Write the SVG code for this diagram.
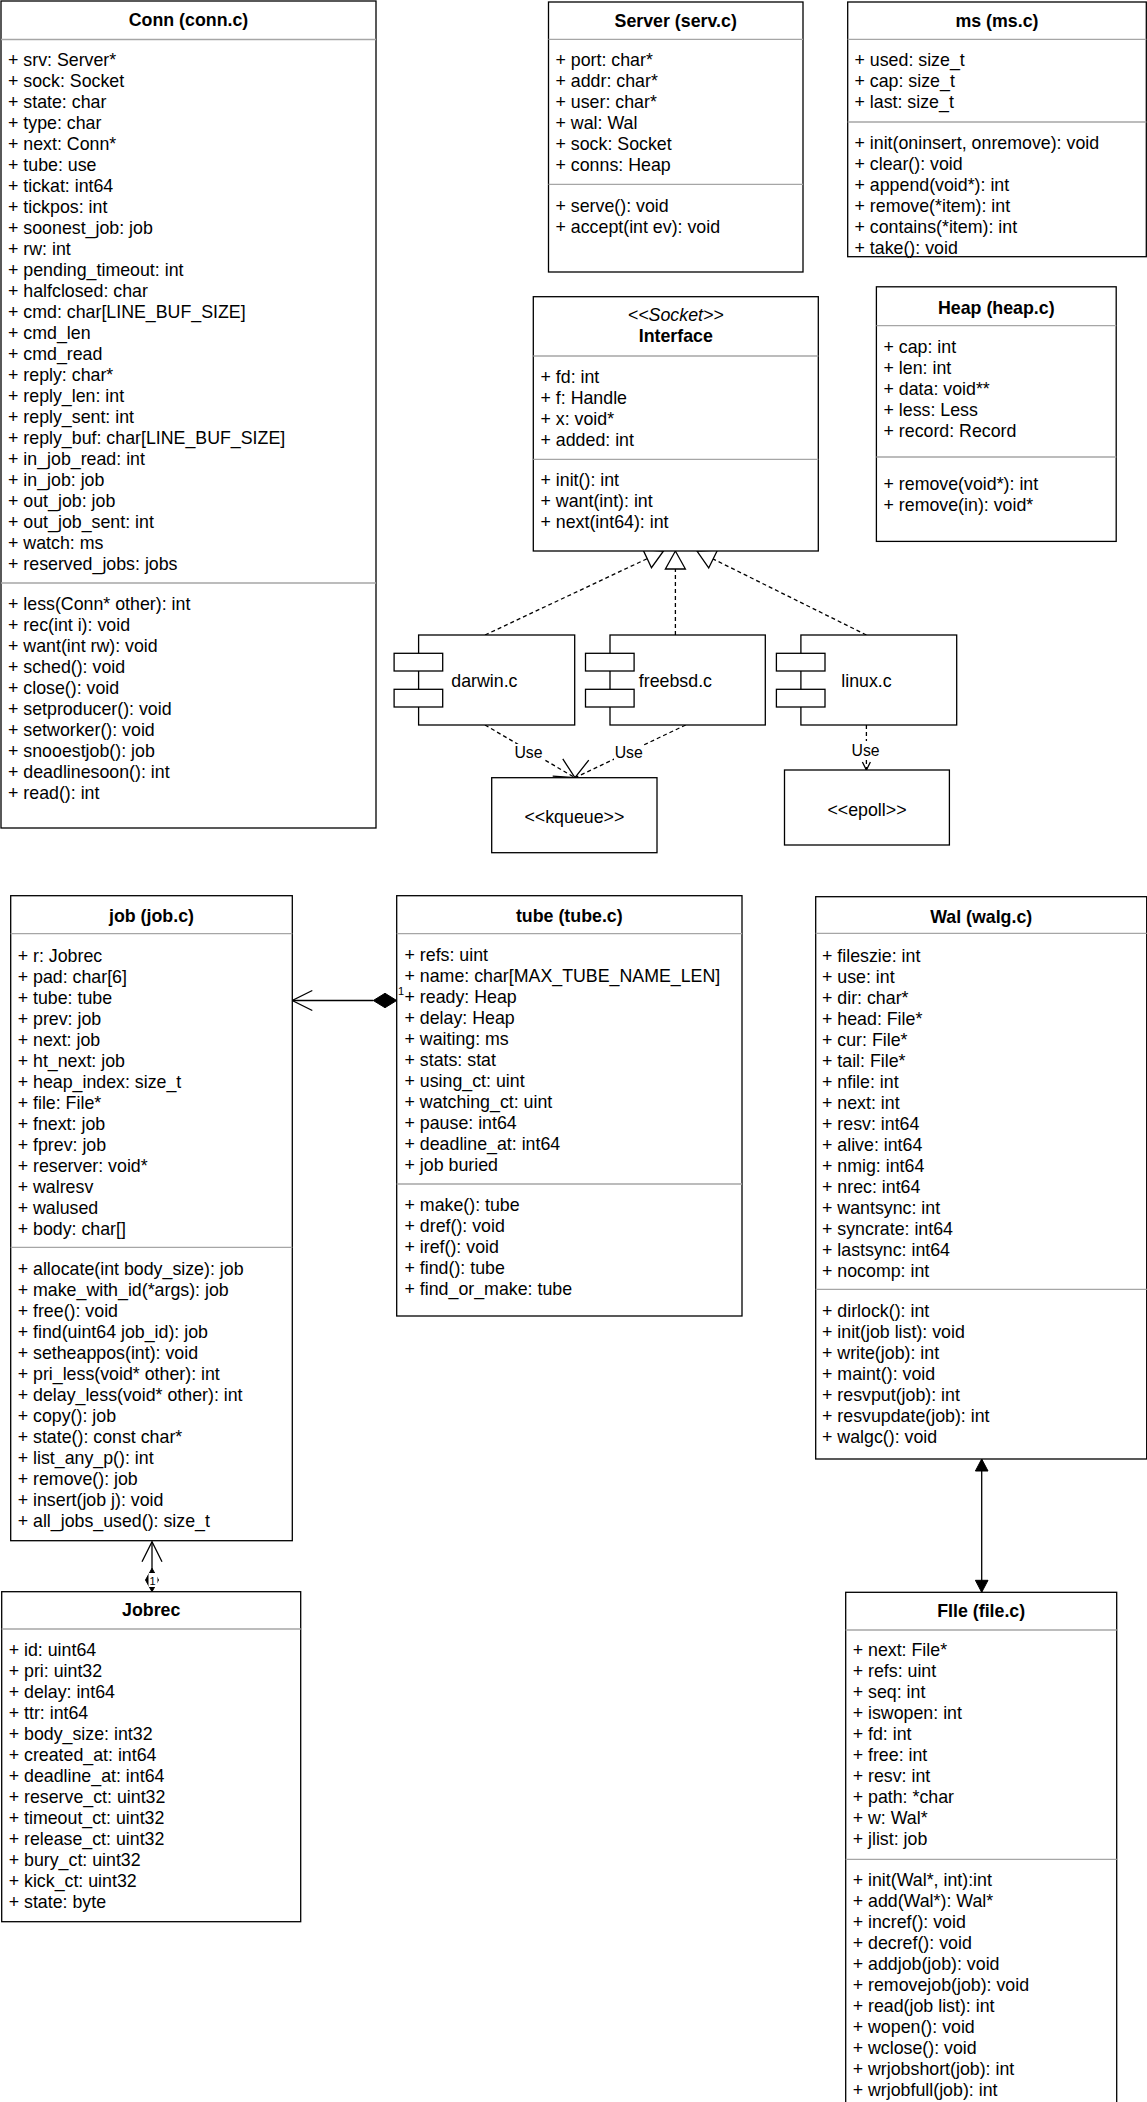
<svg xmlns="http://www.w3.org/2000/svg" width="1147" height="2102" viewBox="0 0 1147 2102">
<style>
.box{fill:#fff;stroke:#000;stroke-width:1.3}
.sep{stroke:#a6a6a6;stroke-width:1.3}
.t{font-family:"Liberation Sans",Arial,Helvetica,sans-serif;font-size:17.8px;fill:#000}
.b{font-weight:bold;text-anchor:middle}
.i{font-style:italic;text-anchor:middle}
.m{text-anchor:middle}
.lbl{font-family:"Liberation Sans",Arial,Helvetica,sans-serif;font-size:15.8px;fill:#000;text-anchor:middle}
.sm{font-family:"Liberation Sans",Arial,Helvetica,sans-serif;font-size:11px;fill:#000}
.ln{fill:none;stroke:#000;stroke-width:1.3}
.dash{fill:none;stroke:#000;stroke-width:1.3;stroke-dasharray:4 3}
</style>
<defs>
<marker id="open" markerUnits="userSpaceOnUse" markerWidth="24" markerHeight="24" refX="20" refY="10" orient="auto" overflow="visible">
<path d="M0,0 L20,10 L0,20" fill="none" stroke="#000" stroke-width="1.3"/>
</marker>
<marker id="openSm" markerUnits="userSpaceOnUse" markerWidth="12" markerHeight="12" refX="8" refY="4" orient="auto" overflow="visible">
<path d="M0,0 L8,4 L0,8" fill="none" stroke="#000" stroke-width="1.3"/>
</marker>
<marker id="hollow" markerUnits="userSpaceOnUse" markerWidth="22" markerHeight="22" refX="18" refY="10" orient="auto" overflow="visible">
<path d="M0,0 L18,10 L0,20 Z" fill="#fff" stroke="#000" stroke-width="1.3"/>
</marker>
<marker id="filled" markerUnits="userSpaceOnUse" markerWidth="14" markerHeight="14" refX="12" refY="6.3" orient="auto-start-reverse" overflow="visible">
<path d="M0,0 L12,6.3 L0,12.6 Z" fill="#000" stroke="#000" stroke-width="1"/>
</marker>
</defs>
<rect x="0" y="0" width="1147" height="2102" fill="#fff"/>

<g id="connectors">
<path class="dash" d="M485,635 L663.5,551" marker-end="url(#hollow)"/>
<path class="dash" d="M675.4,635 L675.4,551" marker-end="url(#hollow)"/>
<path class="dash" d="M866.4,635 L697,551" marker-end="url(#hollow)"/>
<path class="dash" d="M485,725 L575,777.7" marker-end="url(#open)"/>
<path class="dash" d="M685.7,725 L575,777.7" marker-end="url(#open)"/>
<path class="dash" d="M866.4,725 L866.4,770" marker-end="url(#openSm)"/>
<rect x="514" y="744" width="29" height="17" fill="#fff"/>
<text class="lbl" x="528.5" y="758">Use</text>
<rect x="614" y="744" width="29" height="17" fill="#fff"/>
<text class="lbl" x="628.7" y="758">Use</text>
<rect x="851" y="741" width="30" height="17" fill="#fff"/>
<text class="lbl" x="865.6" y="755.7">Use</text>
<path class="ln" d="M373.3,1000.5 L292.3,1000.5" marker-end="url(#open)"/>
<polygon points="396.7,1000.5 385,993.3 373.3,1000.5 385,1007.7" fill="#000" stroke="#000" stroke-width="1"/>
<path class="ln" d="M152,1591.7 L152,1541.7" marker-end="url(#open)"/>
<polygon points="152,1591.7 145.5,1580 152,1568.3 158.5,1580" fill="#000" stroke="#000" stroke-width="1"/>
<path class="ln" d="M981.7,1459 L981.7,1592.3" marker-start="url(#filled)" marker-end="url(#filled)"/>
</g>

<g id="conn">
<rect class="box" x="1" y="1" width="375" height="827"/>
<text class="t b" x="188.5" y="26">Conn (conn.c)</text>
<line class="sep" x1="1" y1="39.5" x2="376" y2="39.5"/>
<text class="t" x="8">
<tspan x="8" y="66">+ srv: Server*</tspan>
<tspan x="8" y="87">+ sock: Socket</tspan>
<tspan x="8" y="108">+ state: char</tspan>
<tspan x="8" y="129">+ type: char</tspan>
<tspan x="8" y="150">+ next: Conn*</tspan>
<tspan x="8" y="171">+ tube: use</tspan>
<tspan x="8" y="192">+ tickat: int64</tspan>
<tspan x="8" y="213">+ tickpos: int</tspan>
<tspan x="8" y="234">+ soonest_job: job</tspan>
<tspan x="8" y="255">+ rw: int</tspan>
<tspan x="8" y="276">+ pending_timeout: int</tspan>
<tspan x="8" y="297">+ halfclosed: char</tspan>
<tspan x="8" y="318">+ cmd: char[LINE_BUF_SIZE]</tspan>
<tspan x="8" y="339">+ cmd_len</tspan>
<tspan x="8" y="360">+ cmd_read</tspan>
<tspan x="8" y="381">+ reply: char*</tspan>
<tspan x="8" y="402">+ reply_len: int</tspan>
<tspan x="8" y="423">+ reply_sent: int</tspan>
<tspan x="8" y="444">+ reply_buf: char[LINE_BUF_SIZE]</tspan>
<tspan x="8" y="465">+ in_job_read: int</tspan>
<tspan x="8" y="486">+ in_job: job</tspan>
<tspan x="8" y="507">+ out_job: job</tspan>
<tspan x="8" y="528">+ out_job_sent: int</tspan>
<tspan x="8" y="549">+ watch: ms</tspan>
<tspan x="8" y="570">+ reserved_jobs: jobs</tspan>
</text>
<line class="sep" x1="1" y1="583" x2="376" y2="583"/>
<text class="t" x="8">
<tspan x="8" y="610">+ less(Conn* other): int</tspan>
<tspan x="8" y="631">+ rec(int i): void</tspan>
<tspan x="8" y="652">+ want(int rw): void</tspan>
<tspan x="8" y="673">+ sched(): void</tspan>
<tspan x="8" y="694">+ close(): void</tspan>
<tspan x="8" y="715">+ setproducer(): void</tspan>
<tspan x="8" y="736">+ setworker(): void</tspan>
<tspan x="8" y="757">+ snooestjob(): job</tspan>
<tspan x="8" y="778">+ deadlinesoon(): int</tspan>
<tspan x="8" y="799">+ read(): int</tspan>
</text>
</g>

<g id="server">
<rect class="box" x="548.5" y="2" width="254.5" height="270"/>
<text class="t b" x="675.7" y="27">Server (serv.c)</text>
<line class="sep" x1="548.5" y1="39.3" x2="803" y2="39.3"/>
<text class="t">
<tspan x="555.5" y="66">+ port: char*</tspan>
<tspan x="555.5" y="87">+ addr: char*</tspan>
<tspan x="555.5" y="108">+ user: char*</tspan>
<tspan x="555.5" y="129">+ wal: Wal</tspan>
<tspan x="555.5" y="150">+ sock: Socket</tspan>
<tspan x="555.5" y="171">+ conns: Heap</tspan>
</text>
<line class="sep" x1="548.5" y1="184.3" x2="803" y2="184.3"/>
<text class="t">
<tspan x="555.5" y="211.5">+ serve(): void</tspan>
<tspan x="555.5" y="232.5">+ accept(int ev): void</tspan>
</text>
</g>

<g id="ms">
<rect class="box" x="847.7" y="2" width="298.6" height="254.7"/>
<text class="t b" x="997" y="27">ms (ms.c)</text>
<line class="sep" x1="847.7" y1="39.3" x2="1146.3" y2="39.3"/>
<text class="t">
<tspan x="854.5" y="66">+ used: size_t</tspan>
<tspan x="854.5" y="87">+ cap: size_t</tspan>
<tspan x="854.5" y="108">+ last: size_t</tspan>
</text>
<line class="sep" x1="847.7" y1="122" x2="1146.3" y2="122"/>
<text class="t">
<tspan x="854.5" y="148.5">+ init(oninsert, onremove): void</tspan>
<tspan x="854.5" y="169.5">+ clear(): void</tspan>
<tspan x="854.5" y="190.5">+ append(void*): int</tspan>
<tspan x="854.5" y="211.5">+ remove(*item): int</tspan>
<tspan x="854.5" y="232.5">+ contains(*item): int</tspan>
<tspan x="854.5" y="253.5">+ take(): void</tspan>
</text>
</g>

<g id="interface">
<rect class="box" x="533.3" y="296.7" width="285" height="254.3"/>
<text class="t i" x="675.8" y="320.7">&lt;&lt;Socket&gt;&gt;</text>
<text class="t b" x="675.8" y="341.7">Interface</text>
<line class="sep" x1="533.3" y1="356" x2="818.3" y2="356"/>
<text class="t">
<tspan x="540.5" y="382.7">+ fd: int</tspan>
<tspan x="540.5" y="403.7">+ f: Handle</tspan>
<tspan x="540.5" y="424.7">+ x: void*</tspan>
<tspan x="540.5" y="445.7">+ added: int</tspan>
</text>
<line class="sep" x1="533.3" y1="459.3" x2="818.3" y2="459.3"/>
<text class="t">
<tspan x="540.5" y="485.7">+ init(): int</tspan>
<tspan x="540.5" y="506.7">+ want(int): int</tspan>
<tspan x="540.5" y="527.7">+ next(int64): int</tspan>
</text>
</g>

<g id="heap">
<rect class="box" x="876.4" y="286.8" width="239.8" height="254.6"/>
<text class="t b" x="996.3" y="314">Heap (heap.c)</text>
<line class="sep" x1="876.4" y1="325.6" x2="1116.2" y2="325.6"/>
<text class="t">
<tspan x="883.5" y="353">+ cap: int</tspan>
<tspan x="883.5" y="374">+ len: int</tspan>
<tspan x="883.5" y="395">+ data: void**</tspan>
<tspan x="883.5" y="416">+ less: Less</tspan>
<tspan x="883.5" y="437">+ record: Record</tspan>
</text>
<line class="sep" x1="876.4" y1="457" x2="1116.2" y2="457"/>
<text class="t">
<tspan x="883.5" y="490">+ remove(void*): int</tspan>
<tspan x="883.5" y="511">+ remove(in): void*</tspan>
</text>
</g>

<g id="darwin">
<rect class="box" x="418.6" y="635" width="156.1" height="90"/>
<rect class="box" x="394.1" y="653.3" width="48.6" height="17.7"/>
<rect class="box" x="394.1" y="689.3" width="48.6" height="17.7"/>
<text class="t m" x="484.4" y="686.5">darwin.c</text>
</g>
<g id="freebsd">
<rect class="box" x="610" y="635" width="155.3" height="90"/>
<rect class="box" x="585.5" y="653.3" width="48.6" height="17.7"/>
<rect class="box" x="585.5" y="689.3" width="48.6" height="17.7"/>
<text class="t m" x="675.4" y="686.5">freebsd.c</text>
</g>
<g id="linux">
<rect class="box" x="800.9" y="635" width="155.8" height="90"/>
<rect class="box" x="776.4" y="653.3" width="48.6" height="17.7"/>
<rect class="box" x="776.4" y="689.3" width="48.6" height="17.7"/>
<text class="t m" x="866.5" y="686.5">linux.c</text>
</g>
<g id="kqueue">
<rect class="box" x="491.7" y="777.7" width="165.3" height="75"/>
<text class="t m" x="574.4" y="823">&lt;&lt;kqueue&gt;&gt;</text>
</g>
<g id="epoll">
<rect class="box" x="784.5" y="770" width="164.9" height="75"/>
<text class="t m" x="867" y="815.5">&lt;&lt;epoll&gt;&gt;</text>
</g>

<g id="job">
<rect class="box" x="10.7" y="895.7" width="281.6" height="645"/>
<text class="t b" x="151.5" y="922">job (job.c)</text>
<line class="sep" x1="10.7" y1="933.7" x2="292.3" y2="933.7"/>
<text class="t">
<tspan x="17.7" y="962">+ r: Jobrec</tspan>
<tspan x="17.7" y="983">+ pad: char[6]</tspan>
<tspan x="17.7" y="1004">+ tube: tube</tspan>
<tspan x="17.7" y="1025">+ prev: job</tspan>
<tspan x="17.7" y="1046">+ next: job</tspan>
<tspan x="17.7" y="1067">+ ht_next: job</tspan>
<tspan x="17.7" y="1088">+ heap_index: size_t</tspan>
<tspan x="17.7" y="1109">+ file: File*</tspan>
<tspan x="17.7" y="1130">+ fnext: job</tspan>
<tspan x="17.7" y="1151">+ fprev: job</tspan>
<tspan x="17.7" y="1172">+ reserver: void*</tspan>
<tspan x="17.7" y="1193">+ walresv</tspan>
<tspan x="17.7" y="1214">+ walused</tspan>
<tspan x="17.7" y="1235">+ body: char[]</tspan>
</text>
<line class="sep" x1="10.7" y1="1247.3" x2="292.3" y2="1247.3"/>
<text class="t">
<tspan x="17.7" y="1274.5">+ allocate(int body_size): job</tspan>
<tspan x="17.7" y="1295.5">+ make_with_id(*args): job</tspan>
<tspan x="17.7" y="1316.5">+ free(): void</tspan>
<tspan x="17.7" y="1337.5">+ find(uint64 job_id): job</tspan>
<tspan x="17.7" y="1358.5">+ setheappos(int): void</tspan>
<tspan x="17.7" y="1379.5">+ pri_less(void* other): int</tspan>
<tspan x="17.7" y="1400.5">+ delay_less(void* other): int</tspan>
<tspan x="17.7" y="1421.5">+ copy(): job</tspan>
<tspan x="17.7" y="1442.5">+ state(): const char*</tspan>
<tspan x="17.7" y="1463.5">+ list_any_p(): int</tspan>
<tspan x="17.7" y="1484.5">+ remove(): job</tspan>
<tspan x="17.7" y="1505.5">+ insert(job j): void</tspan>
<tspan x="17.7" y="1526.5">+ all_jobs_used(): size_t</tspan>
</text>
</g>

<g id="tube">
<rect class="box" x="396.7" y="895.7" width="345.3" height="420.3"/>
<text class="t b" x="569.3" y="922">tube (tube.c)</text>
<line class="sep" x1="396.7" y1="933.7" x2="742" y2="933.7"/>
<text class="t">
<tspan x="404.5" y="961">+ refs: uint</tspan>
<tspan x="404.5" y="982">+ name: char[MAX_TUBE_NAME_LEN]</tspan>
<tspan x="404.5" y="1003">+ ready: Heap</tspan>
<tspan x="404.5" y="1024">+ delay: Heap</tspan>
<tspan x="404.5" y="1045">+ waiting: ms</tspan>
<tspan x="404.5" y="1066">+ stats: stat</tspan>
<tspan x="404.5" y="1087">+ using_ct: uint</tspan>
<tspan x="404.5" y="1108">+ watching_ct: uint</tspan>
<tspan x="404.5" y="1129">+ pause: int64</tspan>
<tspan x="404.5" y="1150">+ deadline_at: int64</tspan>
<tspan x="404.5" y="1171">+ job buried</tspan>
</text>
<line class="sep" x1="396.7" y1="1184" x2="742" y2="1184"/>
<text class="t">
<tspan x="404.5" y="1211">+ make(): tube</tspan>
<tspan x="404.5" y="1232">+ dref(): void</tspan>
<tspan x="404.5" y="1253">+ iref(): void</tspan>
<tspan x="404.5" y="1274">+ find(): tube</tspan>
<tspan x="404.5" y="1295">+ find_or_make: tube</tspan>
</text>
</g>

<g id="wal">
<rect class="box" x="815.7" y="896.7" width="331" height="562.3"/>
<text class="t b" x="981.2" y="922.5">Wal (walg.c)</text>
<line class="sep" x1="815.7" y1="933.3" x2="1146.7" y2="933.3"/>
<text class="t">
<tspan x="822" y="962">+ fileszie: int</tspan>
<tspan x="822" y="983">+ use: int</tspan>
<tspan x="822" y="1004">+ dir: char*</tspan>
<tspan x="822" y="1025">+ head: File*</tspan>
<tspan x="822" y="1046">+ cur: File*</tspan>
<tspan x="822" y="1067">+ tail: File*</tspan>
<tspan x="822" y="1088">+ nfile: int</tspan>
<tspan x="822" y="1109">+ next: int</tspan>
<tspan x="822" y="1130">+ resv: int64</tspan>
<tspan x="822" y="1151">+ alive: int64</tspan>
<tspan x="822" y="1172">+ nmig: int64</tspan>
<tspan x="822" y="1193">+ nrec: int64</tspan>
<tspan x="822" y="1214">+ wantsync: int</tspan>
<tspan x="822" y="1235">+ syncrate: int64</tspan>
<tspan x="822" y="1256">+ lastsync: int64</tspan>
<tspan x="822" y="1277">+ nocomp: int</tspan>
</text>
<line class="sep" x1="815.7" y1="1289.3" x2="1146.7" y2="1289.3"/>
<text class="t">
<tspan x="822" y="1316.5">+ dirlock(): int</tspan>
<tspan x="822" y="1337.5">+ init(job list): void</tspan>
<tspan x="822" y="1358.5">+ write(job): int</tspan>
<tspan x="822" y="1379.5">+ maint(): void</tspan>
<tspan x="822" y="1400.5">+ resvput(job): int</tspan>
<tspan x="822" y="1421.5">+ resvupdate(job): int</tspan>
<tspan x="822" y="1442.5">+ walgc(): void</tspan>
</text>
</g>

<g id="file">
<rect class="box" x="845.7" y="1592.3" width="271" height="530"/>
<text class="t b" x="981.2" y="1616.5">FIle (file.c)</text>
<line class="sep" x1="845.7" y1="1630" x2="1116.7" y2="1630"/>
<text class="t">
<tspan x="852.7" y="1656">+ next: File*</tspan>
<tspan x="852.7" y="1677">+ refs: uint</tspan>
<tspan x="852.7" y="1698">+ seq: int</tspan>
<tspan x="852.7" y="1719">+ iswopen: int</tspan>
<tspan x="852.7" y="1740">+ fd: int</tspan>
<tspan x="852.7" y="1761">+ free: int</tspan>
<tspan x="852.7" y="1782">+ resv: int</tspan>
<tspan x="852.7" y="1803">+ path: *char</tspan>
<tspan x="852.7" y="1824">+ w: Wal*</tspan>
<tspan x="852.7" y="1845">+ jlist: job</tspan>
</text>
<line class="sep" x1="845.7" y1="1859.3" x2="1116.7" y2="1859.3"/>
<text class="t">
<tspan x="852.7" y="1886">+ init(Wal*, int):int</tspan>
<tspan x="852.7" y="1907">+ add(Wal*): Wal*</tspan>
<tspan x="852.7" y="1928">+ incref(): void</tspan>
<tspan x="852.7" y="1949">+ decref(): void</tspan>
<tspan x="852.7" y="1970">+ addjob(job): void</tspan>
<tspan x="852.7" y="1991">+ removejob(job): void</tspan>
<tspan x="852.7" y="2012">+ read(job list): int</tspan>
<tspan x="852.7" y="2033">+ wopen(): void</tspan>
<tspan x="852.7" y="2054">+ wclose(): void</tspan>
<tspan x="852.7" y="2075">+ wrjobshort(job): int</tspan>
<tspan x="852.7" y="2096">+ wrjobfull(job): int</tspan>
</text>
</g>

<g id="jobrec">
<rect class="box" x="1.7" y="1591.7" width="299" height="330"/>
<text class="t b" x="151.2" y="1616">Jobrec</text>
<line class="sep" x1="1.7" y1="1629" x2="300.7" y2="1629"/>
<text class="t">
<tspan x="8.7" y="1656">+ id: uint64</tspan>
<tspan x="8.7" y="1677">+ pri: uint32</tspan>
<tspan x="8.7" y="1698">+ delay: int64</tspan>
<tspan x="8.7" y="1719">+ ttr: int64</tspan>
<tspan x="8.7" y="1740">+ body_size: int32</tspan>
<tspan x="8.7" y="1761">+ created_at: int64</tspan>
<tspan x="8.7" y="1782">+ deadline_at: int64</tspan>
<tspan x="8.7" y="1803">+ reserve_ct: uint32</tspan>
<tspan x="8.7" y="1824">+ timeout_ct: uint32</tspan>
<tspan x="8.7" y="1845">+ release_ct: uint32</tspan>
<tspan x="8.7" y="1866">+ bury_ct: uint32</tspan>
<tspan x="8.7" y="1887">+ kick_ct: uint32</tspan>
<tspan x="8.7" y="1908">+ state: byte</tspan>
</text>
</g>

<g id="labels">
<text class="sm" x="398" y="995">1</text>
<rect x="148.5" y="1573" width="9" height="14" fill="#fff"/>
<text class="sm" x="149.5" y="1585">1</text>
</g>
</svg>
